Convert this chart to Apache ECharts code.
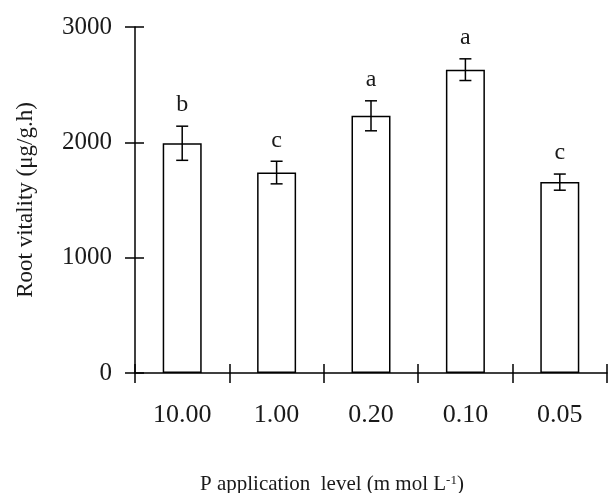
<!DOCTYPE html>
<html>
<head>
<meta charset="utf-8">
<script src="https://cdn.jsdelivr.net/npm/echarts@6/dist/echarts.min.js"></script>
<style>
html,body{margin:0;padding:0;background:#fff;}
#chart{width:612px;height:493px;}
</style>
</head>
<body>
<div id="chart"></div>
<script>
const categories = ['10.00', '1.00', '0.20', '0.10', '0.05'];
const meanValues = [1992, 1738, 2230, 2630, 1655];
const errorValues = [148, 98, 130, 94, 70];
const letters = ['b', 'c', 'a', 'a', 'c'];
const yTicks = [0, 1000, 2000, 3000];

const FONT = '"Liberation Serif", "Times New Roman", serif';
const chart = echarts.init(document.getElementById('chart'), null, {renderer: 'canvas'});

const errData = categories.map((c, i) => [i, meanValues[i], errorValues[i], letters[i]]);

chart.setOption({
  animation: false,
  backgroundColor: '#fff',
  grid: {left: 135, right: 5, top: 27, bottom: 120, containLabel: false},
  title: {
    text: 'P application  level (m mol L{sup|-1})',
    left: 195, top: 469,
    textStyle: {
      fontFamily: FONT, fontSize: 21, fontWeight: 'normal', color: '#1a1a1a',
      rich: {sup: {fontFamily: FONT, fontSize: 13, verticalAlign: 'top', padding: [0, 0, 8, 0], color: '#1a1a1a'}}
    }
  },
  xAxis: [{
    type: 'category', data: categories, position: 'bottom',
    axisLine: {show: true, lineStyle: {color: '#000', width: 1.5}},
    axisTick: {show: true, inside: false, length: 10, alignWithLabel: false, lineStyle: {color: '#000', width: 1.5}},
    axisLabel: {show: true, margin: 29, fontFamily: FONT, fontSize: 26, color: '#1a1a1a'},
    splitLine: {show: false}
  }, {
    type: 'category', data: categories, position: 'bottom',
    axisLine: {show: false},
    axisTick: {show: true, inside: true, length: 9, alignWithLabel: false, lineStyle: {color: '#000', width: 1.5}},
    axisLabel: {show: false},
    splitLine: {show: false}
  }],
  yAxis: [{
    type: 'value', min: 0, max: 3000, interval: 1000,
    name: 'Root vitality (μg/g.h)', nameLocation: 'middle', nameGap: 98,
    nameTextStyle: {fontFamily: FONT, fontSize: 23, color: '#1a1a1a'},
    axisLine: {show: true, lineStyle: {color: '#000', width: 1.5}},
    axisTick: {show: true, inside: false, length: 10, lineStyle: {color: '#000', width: 1.5}},
    axisLabel: {show: true, margin: 23, fontFamily: FONT, fontSize: 25, color: '#1a1a1a',
      formatter: v => yTicks.includes(v) ? String(v) : ''},
    splitLine: {show: false}
  }, {
    type: 'value', min: 0, max: 3000, interval: 1000, position: 'left',
    axisLine: {show: false},
    axisTick: {show: true, inside: true, length: 9, lineStyle: {color: '#000', width: 1.5}},
    axisLabel: {show: false},
    splitLine: {show: false}
  }],
  series: [{
    type: 'bar', data: meanValues, barWidth: 39,
    itemStyle: {color: '#fff', borderColor: '#000', borderWidth: 1.5},
    z: 2
  }, {
    type: 'custom', data: errData, z: 5,
    renderItem: function (params, api) {
      const x = api.value(0), m = api.value(1), e = api.value(2);
      const top = api.coord([x, m + e]);
      const bot = api.coord([x, m - e]);
      const half = 6;
      const st = {stroke: '#000', lineWidth: 1.5};
      return {
        type: 'group',
        children: [
          {type: 'line', shape: {x1: top[0], y1: top[1], x2: bot[0], y2: bot[1]}, style: st},
          {type: 'line', shape: {x1: top[0] - half, y1: top[1], x2: top[0] + half, y2: top[1]}, style: st},
          {type: 'line', shape: {x1: bot[0] - half, y1: bot[1], x2: bot[0] + half, y2: bot[1]}, style: st},
          {type: 'text', style: {text: letters[params.dataIndex], x: top[0], y: top[1] - 9,
            textAlign: 'center', textVerticalAlign: 'bottom', font: '24px ' + FONT, fill: '#1a1a1a'}}
        ]
      };
    }
  }]
});
</script>
</body>
</html>
